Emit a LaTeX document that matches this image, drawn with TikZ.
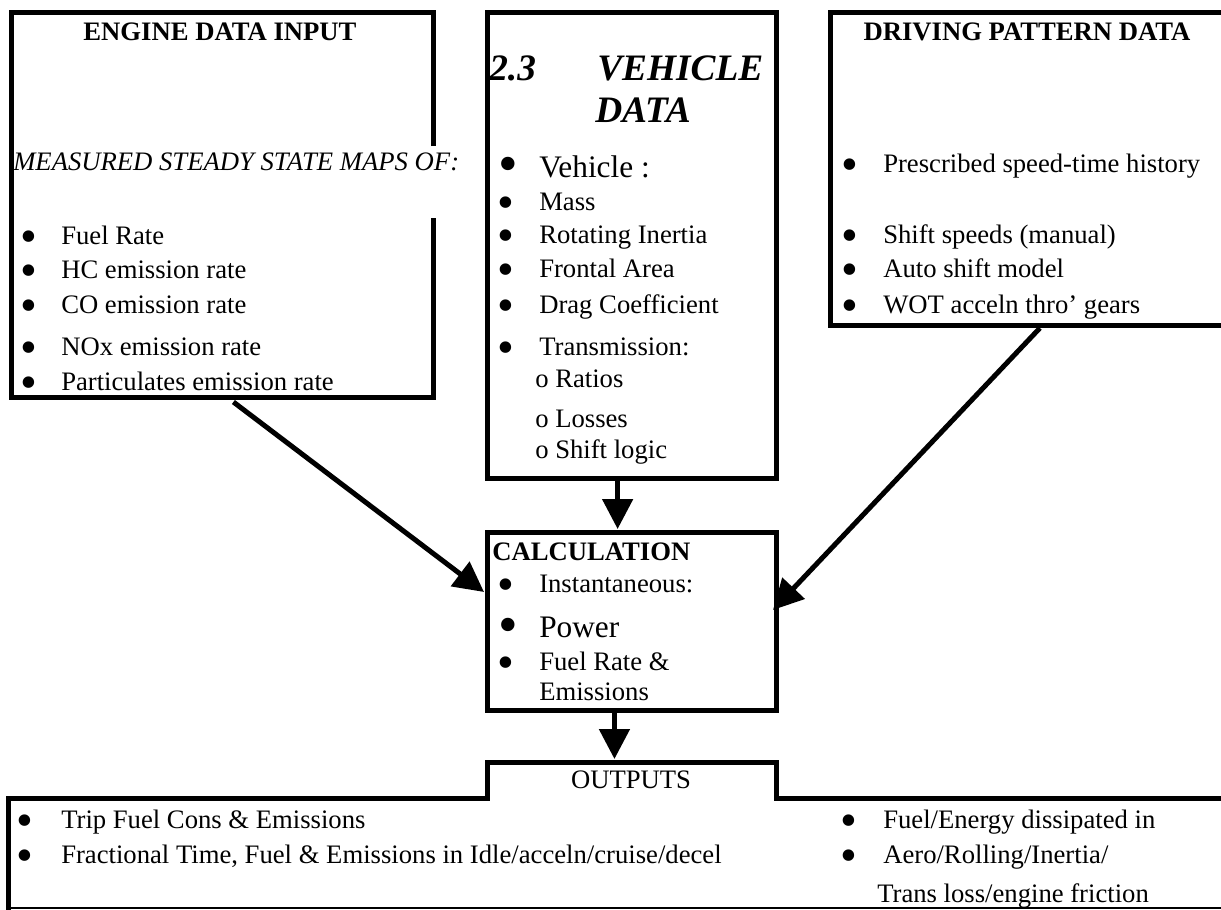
\documentclass[tikz,border=0pt]{standalone}
\usepackage{fontspec}
\setmainfont{Liberation Serif}
\usetikzlibrary{arrows.meta,calc,fit}
\tikzset{
  boxline/.style={line width=3.75pt, line join=miter},
  thinline/.style={line width=1.2pt},
  arr/.style={line width=3.75pt, -{Triangle[length=22.5pt,width=22.5pt]}},
  area/.style={inner sep=0pt, outer sep=0pt, draw=none},
  txt/.style={anchor=base west, inner sep=0pt, font=\fontsize{20}{24}\selectfont},
  bigtxt/.style={anchor=base west, inner sep=0pt, font=\fontsize{23.5}{28}\selectfont},
  hdr/.style={anchor=base, inner sep=0pt, font=\fontsize{20}{24}\selectfont\bfseries},
  bul/.style={anchor=base, inner sep=0pt, font=\fontsize{36}{36}\selectfont},
  bigbul/.style={anchor=base, inner sep=0pt, font=\fontsize{42}{42}\selectfont},
  vtitle/.style={anchor=base west, inner sep=0pt, font=\fontsize{28}{32}\selectfont\bfseries\itshape},
  outhdr/.style={anchor=base, inner sep=0pt, font=\fontsize{20}{24}\selectfont},
}
% bullet: name, centre x, text baseline
\newcommand{\mybul}[3]{\node[bul] (#1) at (#2+9,#3+8) {\makebox[0pt][c]{•}};}
\newcommand{\mybigbul}[3]{\node[bigbul] (#1) at (#2+11,#3+7) {\makebox[0pt][c]{•}};}
\begin{document}
\begin{tikzpicture}[x=0.75pt, y=-0.75pt]
\useasboundingbox (0,0) rectangle (1221,910);

% ---------- box areas ----------
\node[area, fit={(11,12)(433,397)}] (engine) {};
\node[area, fit={(487,12)(776,478)}] (vehicle) {};
\node[area, fit={(830,12)(1240,325)}] (driving) {};
\node[area, fit={(487,532)(776,710)}] (calc) {};
\node[area, fit={(487,762)(776,798)}] (outtab) {};
\node[area, fit={(8,798)(1240,908)}] (outmain) {};

% ---------- engine box (right side broken by text) ----------
\draw[boxline] ($(engine.north east)+(0,134)$) -- (engine.north east) -- (engine.north west)
  -- (engine.south west) -- (engine.south east) -- ($(engine.north east)+(0,206)$);
\node[hdr] (eh) at (220,40) {ENGINE DATA INPUT};
\node[txt, font=\fontsize{20}{24}\selectfont\itshape] (em) at (13,170) {MEASURED STEADY STATE MAPS OF:};
\foreach \yy/\tt [count=\i] in {244/Fuel Rate, 278/HC emission rate, 313/CO emission rate, 355/NOx emission rate, 390/Particulates emission rate}{
  \mybul{eb\i}{20}{\yy}
  \node[txt] (et\i) at (61,\yy) {\tt};
}

% ---------- vehicle box ----------
\draw[boxline] (vehicle.north west) rectangle (vehicle.south east);
\node[vtitle] (v23) at (489,80) {2.3};
\node[vtitle] (vveh) at (597,80) {VEHICLE};
\node[vtitle] (vdat) at (595,122) {DATA};
\mybigbul{vb0}{497}{175}
\node[bigtxt] (vt0) at (539,177) {Vehicle :};
\foreach \yy/\tt [count=\i] in {210/Mass, 243/Rotating Inertia, 277/Frontal Area, 313/Drag Coefficient, 355/Transmission:}{
  \mybul{vb\i}{497}{\yy}
  \node[txt] (vt\i) at (539,\yy) {\tt};
}
\node[txt] (vo1) at (535,387) {o Ratios};
\node[txt] (vo2) at (535,427) {o Losses};
\node[txt] (vo3) at (535,458) {o Shift logic};

% ---------- driving box ----------
\draw[boxline] (driving.north east) -- (driving.north west) -- (driving.south west) -- (driving.south east);
\node[hdr] (dh) at (1027,40) {DRIVING PATTERN DATA};
\foreach \yy/\tt [count=\i] in {172/Prescribed speed-time history, 243/Shift speeds (manual), 277/Auto shift model, 313/WOT acceln thro’ gears}{
  \mybul{db\i}{841}{\yy}
  \node[txt] (dt\i) at (883,\yy) {\tt};
}

% ---------- calculation box ----------
\draw[boxline] (calc.north west) rectangle (calc.south east);
\node[txt, font=\fontsize{20}{24}\selectfont\bfseries] (ch) at (492,560) {CALCULATION};
\mybul{cb1}{497}{592}
\node[txt] (ct1) at (539,592) {Instantaneous:};
\mybigbul{cb2}{497}{636}
\node[bigtxt] (ct2) at (539,637) {Power};
\mybul{cb3}{497}{670}
\node[txt] (ct3) at (539,670) {Fuel Rate \&};
\node[txt] (ct4) at (539,700) {Emissions};

% ---------- outputs ----------
\draw[boxline] (outmain.north east) -- (outtab.south east) -- (outtab.north east) -- (outtab.north west)
  -- (outtab.south west) -- (outmain.north west) -- ($(outmain.south west)+(0,4)$);
\draw[thinline] (outmain.south west) -- (outmain.south east);
\node[outhdr] (oh) at (631,788) {OUTPUTS};
\mybul{ob1}{16}{828}
\node[txt] (ot1) at (61,828) {Trip Fuel Cons \& Emissions};
\mybul{ob2}{16}{863}
\node[txt] (ot2) at (61,863) {Fractional Time, Fuel \& Emissions in Idle/acceln/cruise/decel};
\mybul{ob3}{840}{828}
\node[txt] (ot3) at (883,828) {Fuel/Energy dissipated in};
\mybul{ob4}{840}{863}
\node[txt] (ot4) at (883,863) {Aero/Rolling/Inertia/};
\node[txt] (ot5) at (877,902) {Trans loss/engine friction};

% ---------- connectors ----------
\draw[arr] ($(engine.south west)!0.527!(engine.south east)+(0,5)$) -- ($(calc.north west)!0.337!(calc.south west)+(-3,0)$);
\coordinate (vs) at ($(vehicle.south west)!0.452!(vehicle.south east)$);
\draw[arr] (vs) -- ($(vs |- calc.north)+(0,-3)$);
\draw[arr] ($(driving.south west)!0.512!(driving.south east)+(0,3)$) -- ($(calc.north east)!0.438!(calc.south east)+(-3,0)$);
\coordinate (cs) at ($(calc.south west)!0.441!(calc.south east)$);
\draw[arr] (cs) -- ($(cs |- outtab.north)+(0,-3)$);
\end{tikzpicture}
\end{document}
